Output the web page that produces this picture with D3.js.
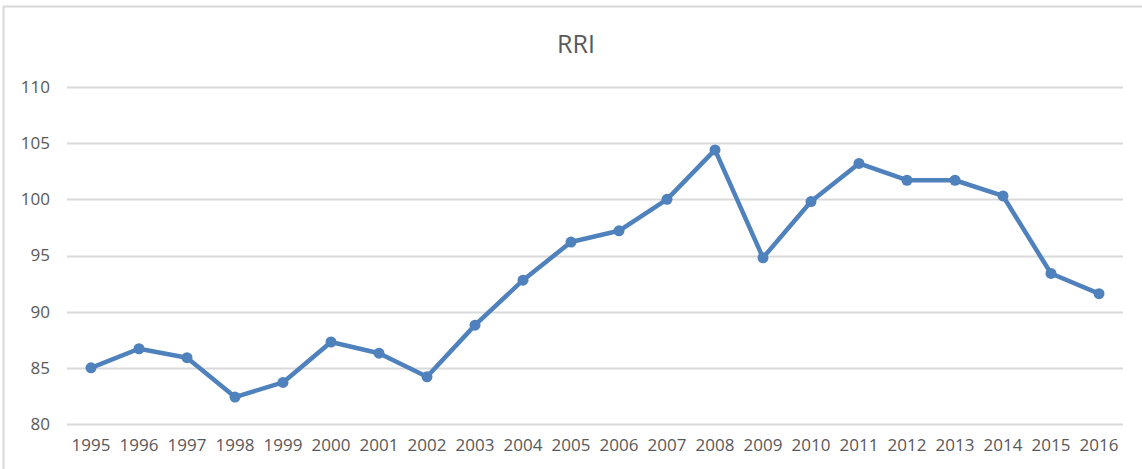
<!DOCTYPE html>
<html>
<head>
<meta charset="utf-8">
<script src="https://cdnjs.cloudflare.com/ajax/libs/d3/7.8.5/d3.min.js"></script>
<style>
    body { margin: 0; background: #fff; }
    svg { display: block; font-family: "Open Sans", "Liberation Sans", sans-serif; }
</style>
</head>
<body>
<div id="chart"></div>
<script>
var years = ['1995','1996','1997','1998','1999','2000','2001','2002','2003','2004','2005',
             '2006','2007','2008','2009','2010','2011','2012','2013','2014','2015','2016'];
var rri = [85.0, 86.7, 85.9, 82.4, 83.7, 87.3, 86.3, 84.2, 88.8, 92.8, 96.2,
           97.2, 100.0, 104.4, 94.8, 99.8, 103.2, 101.7, 101.7, 100.3, 93.4, 91.6];
var yTicks = [80, 85, 90, 95, 100, 105, 110];
var title = 'RRI';

var width = 1142, height = 469;
var margin = {top: 87, right: 19, bottom: 45, left: 67};

var svg = d3.select('#chart').append('svg')
    .attr('width', width)
    .attr('height', height);

// chart area border (only left/top are visible in the crop)
svg.append('rect')
    .attr('x', 3.5).attr('y', 6.5)
    .attr('width', width + 10).attr('height', height + 10)
    .attr('fill', 'none')
    .attr('stroke', '#d9d9d9')
    .attr('stroke-width', 2);

var x = d3.scaleBand()
    .domain(years)
    .range([margin.left, width - margin.right]);

var y = d3.scaleLinear()
    .domain([80, 110])
    .range([height - margin.bottom, margin.top]);

// title
svg.append('text')
    .attr('x', 576)
    .attr('y', 53)
    .attr('text-anchor', 'middle')
    .style('font-size', '25px')
    .style('fill', '#595959')
    .text(title);

// gridlines
svg.append('g')
    .selectAll('line')
    .data(yTicks)
    .enter()
    .append('line')
    .attr('x1', margin.left)
    .attr('x2', width - margin.right)
    .attr('y1', function (d) { return Math.round(y(d)) + 0.5; })
    .attr('y2', function (d) { return Math.round(y(d)) + 0.5; })
    .attr('stroke', '#d9d9d9')
    .attr('stroke-width', 2);

// y axis labels
var yAxis = d3.axisLeft(y).tickValues(yTicks).tickSize(0).tickPadding(17);
svg.append('g')
    .attr('transform', 'translate(' + margin.left + ',0)')
    .call(yAxis)
    .call(function (g) { g.select('.domain').remove(); })
    .selectAll('text')
    .style('font-size', '17px')
    .style('fill', '#595959')
    .style('font-family', '"Open Sans", sans-serif');

// x axis labels
var xAxis = d3.axisBottom(x).tickSize(0).tickPadding(15);
svg.append('g')
    .attr('transform', 'translate(0,' + (height - margin.bottom) + ')')
    .call(xAxis)
    .call(function (g) { g.select('.domain').remove(); })
    .selectAll('text')
    .style('font-size', '17px')
    .style('fill', '#595959')
    .style('font-family', '"Open Sans", sans-serif');

var line = d3.line()
    .x(function (d, i) { return x(years[i]) + x.bandwidth() / 2; })
    .y(function (d) { return y(d); });

svg.append('path')
    .datum(rri)
    .attr('d', line)
    .attr('fill', 'none')
    .attr('stroke', '#4f81bd')
    .attr('stroke-width', 4.5)
    .attr('stroke-linejoin', 'round');

svg.append('g')
    .selectAll('circle')
    .data(rri)
    .enter()
    .append('circle')
    .attr('cx', function (d, i) { return x(years[i]) + x.bandwidth() / 2; })
    .attr('cy', function (d) { return y(d); })
    .attr('r', 5.5)
    .attr('fill', '#4f81bd');
</script>
</body>
</html>
